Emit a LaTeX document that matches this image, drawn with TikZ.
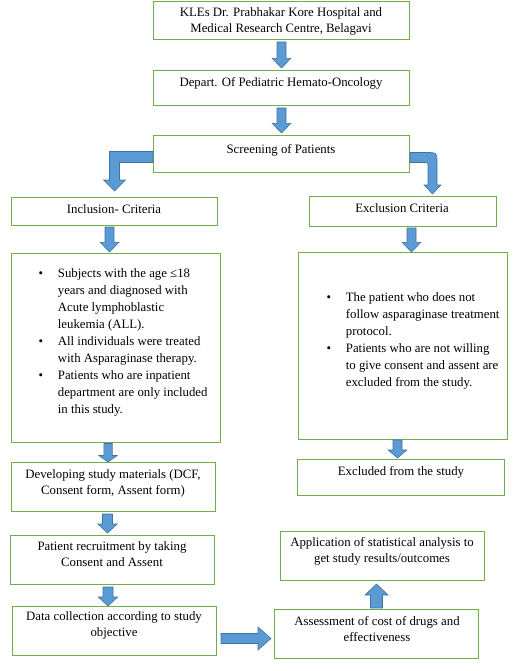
\documentclass[tikz,border=0pt]{standalone}
\usepackage{fontspec}
\setmainfont{Liberation Serif}
\usetikzlibrary{calc}
\definecolor{boxgreen}{HTML}{70AD47}
\definecolor{arrfill}{HTML}{5B9BD5}
\definecolor{arrline}{HTML}{41719C}
\begin{document}
\begin{tikzpicture}[x=1pt,y=-1pt,
  box/.style={draw=boxgreen, line width=1pt, anchor=north west, inner sep=0pt},
  txt/.style={align=center, inner sep=0pt, font=\fontsize{12.8}{16}\selectfont},
  lst/.style={anchor=north west, inner sep=0pt, font=\fontsize{12.8}{17.1}\selectfont},
  blk/.style={fill=arrfill, draw=arrline, line width=0.6pt, line join=miter},
  blockdown/.style args={#1/#2/#3}{blk, to path={let \p1=(\tikztostart), \p2=(\tikztotarget) in
    (\x1-#1pt,\y1) -- (\x1+#1pt,\y1) -- (\x1+#1pt,\y2+#3pt) -- (\x1+#2pt,\y2+#3pt) -- (\x1,\y2)
    -- (\x1-#2pt,\y2+#3pt) -- (\x1-#1pt,\y2+#3pt) -- cycle}},
  blockup/.style args={#1/#2/#3}{blk, to path={let \p1=(\tikztostart), \p2=(\tikztotarget) in
    (\x1-#1pt,\y1) -- (\x1+#1pt,\y1) -- (\x1+#1pt,\y2-#3pt) -- (\x1+#2pt,\y2-#3pt) -- (\x1,\y2)
    -- (\x1-#2pt,\y2-#3pt) -- (\x1-#1pt,\y2-#3pt) -- cycle}},
  blockright/.style args={#1/#2/#3}{blk, to path={let \p1=(\tikztostart), \p2=(\tikztotarget) in
    (\x1,\y1+#1pt) -- (\x2-#3pt,\y1+#1pt) -- (\x2-#3pt,\y1+#2pt) -- (\x2,\y1)
    -- (\x2-#3pt,\y1-#2pt) -- (\x2-#3pt,\y1-#1pt) -- (\x1,\y1-#1pt) -- cycle}}
]
\useasboundingbox (0,0) rectangle (514,671);

% boxes
\node[box, minimum width=256pt, minimum height=38pt] (b1) at (153,1) {};
\node[box, minimum width=256pt, minimum height=35pt] (b2) at (153,70) {};
\node[box, minimum width=256pt, minimum height=37pt] (b3) at (153,135) {};
\node[box, minimum width=206pt, minimum height=28pt] (inc) at (11,197) {};
\node[box, minimum width=187pt, minimum height=30pt] (exc) at (309,196) {};
\node[box, minimum width=209pt, minimum height=189pt] (incl) at (11,253) {};
\node[box, minimum width=209pt, minimum height=187pt] (excl) at (298,252) {};
\node[box, minimum width=207pt, minimum height=36pt] (exd) at (297,459) {};
\node[box, minimum width=204pt, minimum height=49pt] (dev) at (11,462) {};
\node[box, minimum width=204pt, minimum height=49pt] (rec) at (10,535) {};
\node[box, minimum width=204pt, minimum height=49pt] (dat) at (12,606) {};
\node[box, minimum width=204pt, minimum height=49pt] (app) at (280,531) {};
\node[box, minimum width=204pt, minimum height=49pt] (ass) at (274,609) {};

% texts
\node[txt] (t1) at (281,21) {KLEs Dr. Prabhakar Kore Hospital and\\Medical Research Centre, Belagavi};
\node[txt] (t2) at (281,83) {Depart. Of Pediatric Hemato-Oncology};
\node[txt] (t3) at (281,150) {Screening of Patients};
\node[txt] (tinc) at (114,209) {Inclusion- Criteria};
\node[txt] (texc) at (402,208) {Exclusion Criteria};
\node[txt] (texd) at (401,472) {Excluded from the study};
\node[txt] (tdev) at (113,483) {Developing study materials (DCF,\\Consent form, Assent form)};
\node[txt] (trec) at (112,554.5) {Patient recruitment by taking\\Consent and Assent};
\node[txt] (tdat) at (114,625.5) {Data collection according to study\\objective};
\node[txt] (tapp) at (382,551) {Application of statistical analysis to\\get study results/outcomes};
\node[txt] (tass) at (377,629.5) {Assessment of cost of drugs and\\effectiveness};

\node[lst] (linc) at (38.5,265) {\begin{tabular}{@{}p{19.2pt}@{}l@{}}
\textbullet & Subjects with the age ≤18\\
 & years and diagnosed with\\
 & Acute lymphoblastic\\
 & leukemia (ALL).\\
\textbullet & All individuals were treated\\
 & with Asparaginase therapy.\\
\textbullet & Patients who are inpatient\\
 & department are only included\\
 & in this study.
\end{tabular}};
\node[lst] (lexc) at (326.5,289) {\begin{tabular}{@{}p{19.2pt}@{}l@{}}
\textbullet & The patient who does not\\
 & follow asparaginase treatment\\
 & protocol.\\
\textbullet & Patients who are not willing\\
 & to give consent and assent are\\
 & excluded from the study.
\end{tabular}};

% straight block arrows
\draw[blockdown={4.5/9.3/9.6}] ($(b1.south)+(0,2)$) to ($(b2.north)+(0,-2)$);
\draw[blockdown={4.5/9.3/9.6}] ($(b2.south)+(0,2)$) to ($(b3.north)+(0,-2)$);
\draw[blockdown={4.5/9.3/9.6}] ($(inc.south)+(-5,1)$) to ($(incl.north)+(0,-1)$);
\draw[blockdown={4.5/9.3/9.6}] ($(exc.south)+(8.5,1)$) to (excl.north);
\draw[blockdown={4.2/9.2/6.5}] ($(incl.south)+(-8,0.5)$) to (dev.north);
\draw[blockdown={4.5/9.3/8}] ($(excl.south)+(-5.5,0)$) to ($(exd.north)+(0,-1)$);
\draw[blockdown={5/9.7/9}] ($(dev.south)+(-6,2)$) to ($(rec.north)+(0,-2)$);
\draw[blockdown={5/9.7/9}] ($(rec.south)+(-4.5,2)$) to (dat.north);
\draw[blockright={5/11.5/13}] ($(dat.east)+(4,7.5)$) to ($(ass.west)+(-3,0)$);
\draw[blockup={6/11.5/11}] ($(ass.north)+(0,-1)$) to ($(app.south)+(0,3)$);

% elbow arrows
\draw[blk] let \p1=(b3.west), \p2=(inc.north) in
  (\x1,\y1+2.5pt) -- (\x2-5pt,\y1+2.5pt) -- (\x2-5pt,\y2+17pt) -- (\x2-11pt,\y2+17pt)
  -- (\x2,\y2+6pt) -- (\x2+11pt,\y2+17pt) -- (\x2+5pt,\y2+17pt) -- (\x2+5pt,\y1-8.5pt)
  -- (\x1,\y1-8.5pt) -- cycle;
\draw[blk] let \p1=(b3.east), \p2=(exc.north) in
  (\x1,\y1+1.5pt) -- (\x1+17pt,\y1+1.5pt) .. controls (\x1+27pt,\y1+1.5pt) .. (\x1+27pt,\y1-8.5pt)
  -- (\x1+27pt,\y2+11pt) -- (\x1+31pt,\y2+11pt) -- (\x1+22.5pt,\y2+2pt) -- (\x1+14pt,\y2+11pt)
  -- (\x1+18pt,\y2+11pt) -- (\x1+18pt,\y1-12.5pt) .. controls (\x1+18pt,\y1-8.5pt) .. (\x1+14pt,\y1-8.5pt)
  -- (\x1,\y1-8.5pt) -- cycle;
\end{tikzpicture}
\end{document}
